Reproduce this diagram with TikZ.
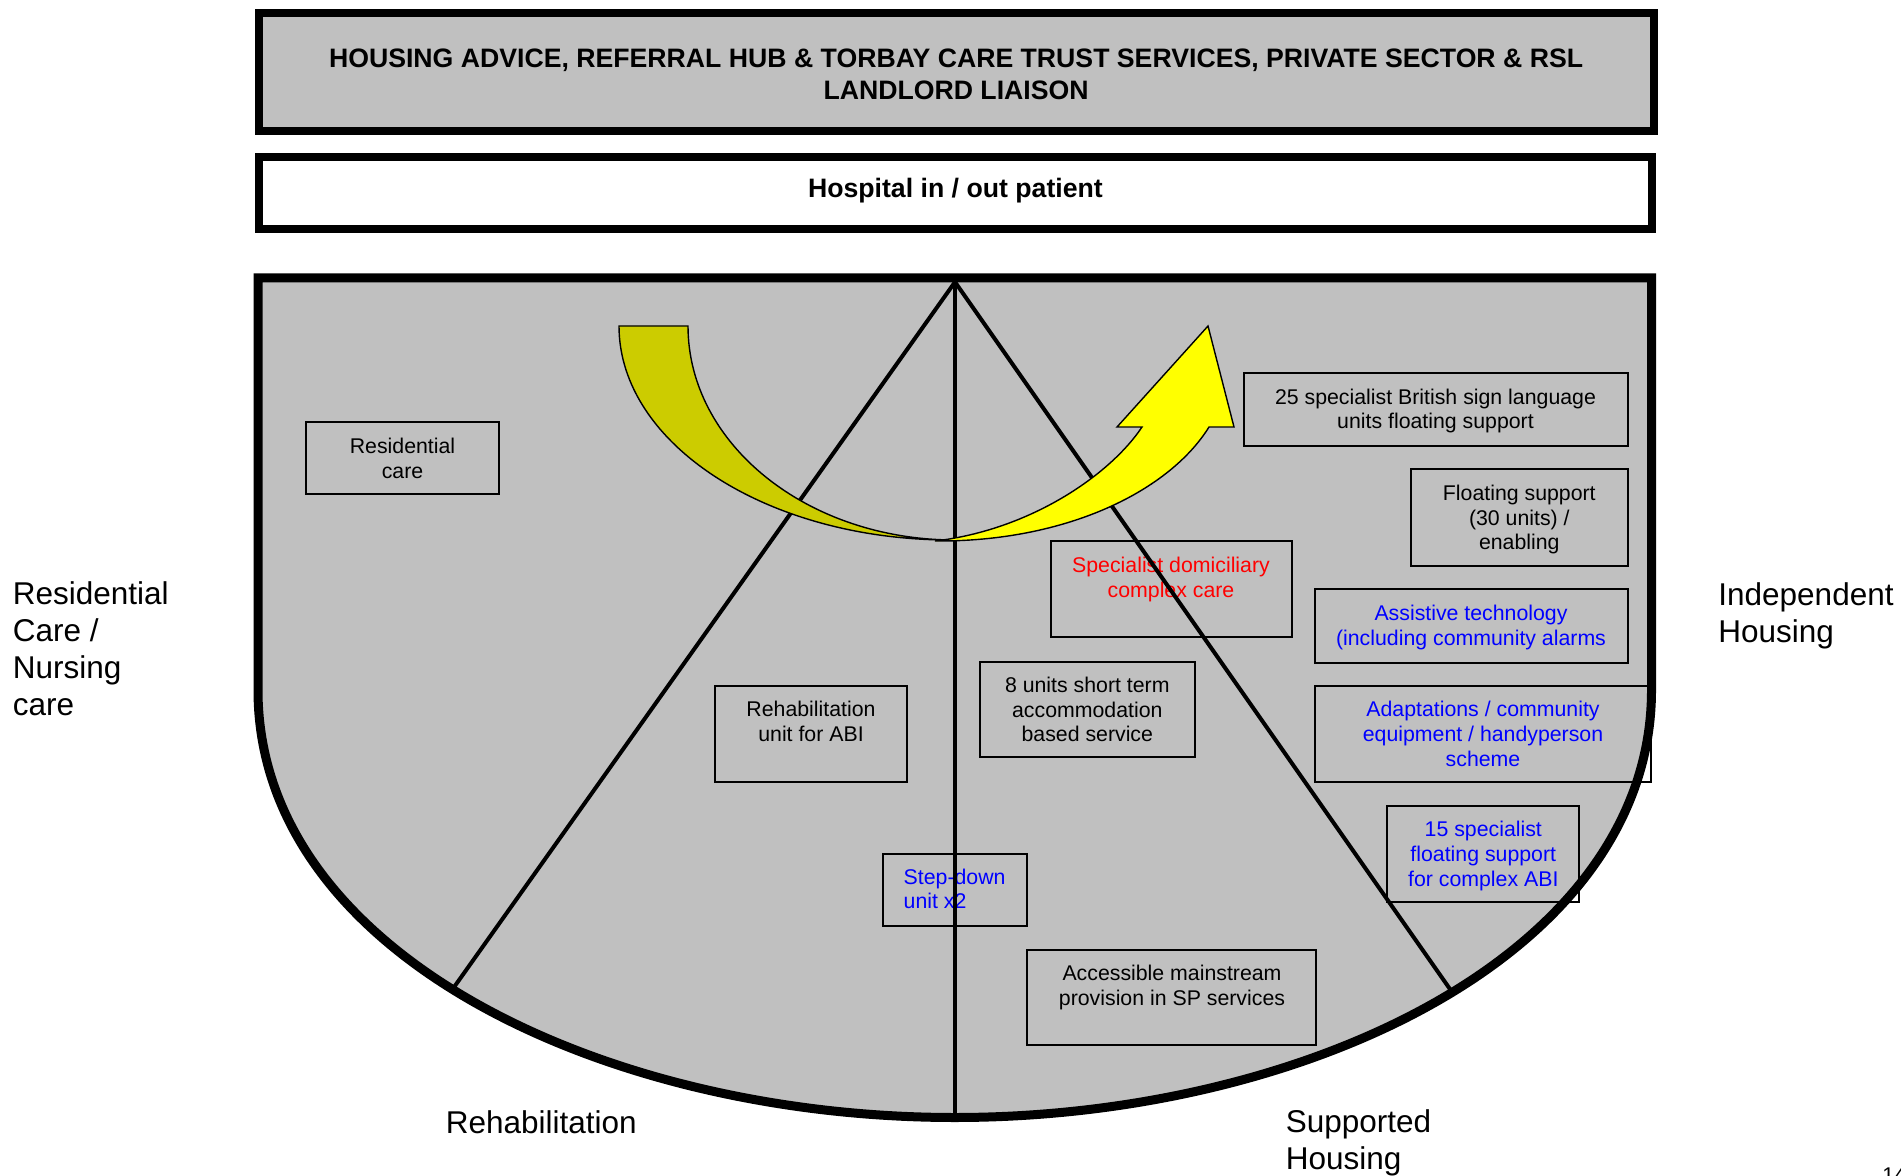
\documentclass[tikz,border=0pt]{standalone}
\usepackage{fontspec}
\setmainfont{Liberation Sans}
\definecolor{shieldgray}{HTML}{C0C0C0}
\definecolor{darkyellow}{HTML}{CCCC00}
\definecolor{brightyellow}{HTML}{FFFF00}
\definecolor{txtred}{HTML}{FF0000}
\definecolor{txtblue}{HTML}{0000FF}
\begin{document}
\begin{tikzpicture}[x=0.5pt,y=-0.5pt,
  boxtxt/.style={font=\fontsize{10.65}{12.4}\selectfont, align=center, anchor=north, inner sep=0pt, execute at begin node=\strut},
  svcbox/.style={draw=black, line width=1pt, inner sep=0pt, outer sep=0pt},
  sidelbl/.style={font=\fontsize{15.75}{18.5}\selectfont, align=left, anchor=north west, inner sep=0pt, execute at begin node=\strut},
  divider/.style={line width=2pt, line cap=butt},
  arrowpart/.style={draw=black, line width=0.7pt, line join=miter},
  topbox/.style={draw=black, line width=4pt, inner sep=0pt, outer sep=0pt},
  toptxt/.style={inner sep=0pt, align=center, font=\fontsize{13.33}{16}\selectfont\bfseries}
]
\useasboundingbox (0,0) rectangle (1901,1176);
\fill[white] (0,0) rectangle (1901,1176);

% header boxes
\node[topbox, fill=shieldgray, minimum width=697.4pt, minimum height=59pt] (header) at (956.1,72) {};
\node[toptxt] (headerT) at (956.1,74)
  {HOUSING ADVICE, REFERRAL HUB \& TORBAY CARE TRUST SERVICES, PRIVATE SECTOR \& RSL\\LANDLORD LIAISON};
\node[topbox, fill=white, minimum width=696.65pt, minimum height=35.75pt] (hospital) at (955.4,193.25) {};
\node[toptxt] (hospitalT) at (955.4,190.5) {Hospital in / out patient};

% shield fill
\fill[shieldgray] (258,278) -- (1651.5,278) -- (1651.5,690)
  .. controls (1651.5,955) and (1303.1,1117.5) .. (954.75,1117.5)
  .. controls (606.35,1117.5) and (258,955) .. (258,690) -- cycle;

% service boxes
\node[svcbox, minimum width=96.5pt, minimum height=36.15pt] (resid) at (402.5,457.85) {};
\node[svcbox, minimum width=192.05pt, minimum height=36.35pt] (bsl) at (1435.55,409.65) {};
\node[svcbox, minimum width=108.3pt, minimum height=48.2pt] (float) at (1519.3,517.5) {};
\node[svcbox, minimum width=120.35pt, minimum height=48.15pt] (dom) at (1171.15,589.15) {};
\node[svcbox, minimum width=156.4pt, minimum height=36.7pt] (assist) at (1471.2,626) {};
\node[svcbox, minimum width=107.7pt, minimum height=47.65pt] (units) at (1087.3,709.35) {};
\node[svcbox, minimum width=168pt, minimum height=48.15pt] (adapt) at (1483,733.85) {};
\node[svcbox, minimum width=96pt, minimum height=48pt] (abi) at (1483.3,853.7) {};
\node[svcbox, minimum width=96.15pt, minimum height=48pt] (rehab) at (811.15,733.7) {};
\node[svcbox, minimum width=72.3pt, minimum height=36pt] (stepdown) at (955,890) {};
\node[svcbox, minimum width=144.35pt, minimum height=47.5pt] (access) at (1171.65,997.5) {};

% box texts
\node[boxtxt] (residT) at (402.5,437.4) {Residential\\care};
\node[boxtxt] (bslT) at (1435.5,388.2) {25 specialist British sign language\\units floating support};
\node[boxtxt] (floatT) at (1519.3,484.5) {Floating support\\(30 units) /\\enabling};
\node[boxtxt, text=txtred] (domT) at (1171,556.5) {Specialist domiciliary\\complex care};
\node[boxtxt, text=txtblue] (assistT) at (1471,604.8) {Assistive technology\\(including community alarms};
\node[boxtxt] (unitsT) at (1087.3,676.5) {8 units short term\\accommodation\\based service};
\node[boxtxt, text=txtblue] (adaptT) at (1483,700.8) {Adaptations / community\\equipment / handyperson\\scheme};
\node[boxtxt, text=txtblue] (abiT) at (1483.3,820.8) {15 specialist\\floating support\\for complex ABI};
\node[boxtxt] (rehabT) at (811,700.8) {Rehabilitation\\unit for ABI};
\node[boxtxt, text=txtblue, align=left, anchor=north west] (stepT) at (903.3,868.2) {Step-down\\unit x2};
\node[boxtxt] (accessT) at (1172,964.8) {Accessible mainstream\\provision in SP services};

% dividers
\coordinate (apex) at (955,282);
\coordinate (lfoot) at (452,990);
\coordinate (rfoot) at (1452,992);
\coordinate (mfoot) at (955,1116);
\draw[divider] (apex) -- (lfoot);
\draw[divider] (apex) -- (rfoot);
\draw[divider] (apex) -- (mfoot);

% curved arrow
\draw[arrowpart, fill=darkyellow] (619,326) -- (688,326)
  .. controls (688,444.2) and (807.5,540) .. (955,540)
  .. controls (769.4,541.5) and (619,444.7) .. (619,326) -- cycle;
\draw[arrowpart, fill=brightyellow] (935,541)
  .. controls (1068,542) and (1170,490) .. (1209,427)
  -- (1234,427) -- (1208,326) -- (1117,427) -- (1142,427)
  .. controls (1110,475) and (1030,530) .. (935,541) -- cycle;

% shield border
\draw[line width=4.5pt, line join=miter] (258,278) -- (1651.5,278) -- (1651.5,690)
  .. controls (1651.5,955) and (1303.1,1117.5) .. (954.75,1117.5)
  .. controls (606.35,1117.5) and (258,955) .. (258,690) -- cycle;

% side labels
\node[sidelbl] (leftlbl) at (12.5,581.5) {Residential\\Care /\\Nursing\\care};
\node[sidelbl] (rightlbl) at (1718,582) {Independent\\Housing};
\node[font=\fontsize{15.75}{18.5}\selectfont, anchor=base west, inner sep=0pt] (rehablbl) at (445.5,1133) {Rehabilitation};
\node[sidelbl] (suplbl) at (1285.5,1109) {Supported\\Housing};
\node[font=\fontsize{10.65}{12.4}\selectfont, anchor=base west, inner sep=0pt] (pagenum) at (1882,1182) {14};
\end{tikzpicture}
\end{document}
